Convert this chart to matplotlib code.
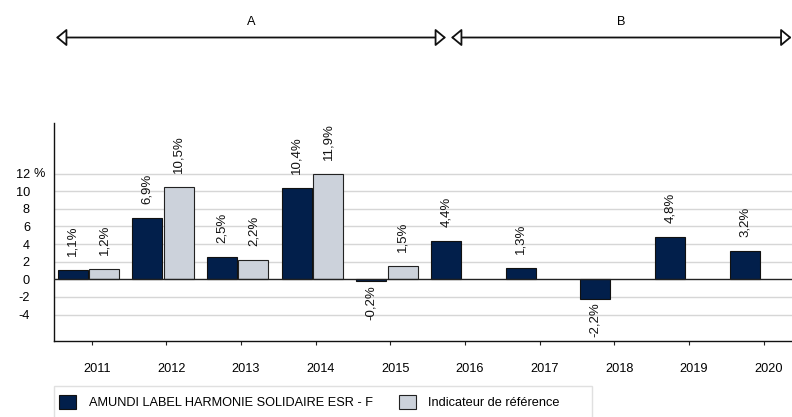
import matplotlib
matplotlib.use("Agg")
import matplotlib.pyplot as plt
from matplotlib.patches import FancyArrowPatch, Rectangle, Patch
from matplotlib.transforms import ScaledTranslation
import numpy as np

plt.rcParams['font.family'] = ['Liberation Sans', 'DejaVu Sans']

years = ['2011', '2012', '2013', '2014', '2015', '2016', '2017', '2018', '2019', '2020']
fund = [1.1, 6.9, 2.5, 10.4, -0.2, 4.4, 1.3, -2.2, 4.8, 3.2]
bench = [1.2, 10.5, 2.2, 11.9, 1.5, None, None, None, None, None]
yticks = [-4, -2, 0, 2, 4, 6, 8, 10, 12]
ytick_labels = ['-4', '-2', '0', '2', '4', '6', '8', '10', '12']
periods = ['A', 'B']
fund_name = 'AMUNDI LABEL HARMONIE SOLIDAIRE ESR - F'
bench_name = 'Indicateur de référence'

NAVY = '#021f4b'
GREY = '#ccd2db'
FS = 9.2

W, H = 792, 417
fig = plt.figure(figsize=(W / 100, H / 100), dpi=100)
ax = fig.add_axes([54 / W, 1 - 341 / H, 1 - 54 / W, (341 - 123.3) / H])

x = np.arange(len(years))
bw = 0.40
off = 0.21

for i, v in enumerate(fund):
    ax.bar(x[i] - off, v, width=bw, color=NAVY, edgecolor='#111111', linewidth=0.8, zorder=3)
for i, v in enumerate(bench):
    if v is not None:
        ax.bar(x[i] + off, v, width=bw, color=GREY, edgecolor='#222222', linewidth=0.8, zorder=3)


def fmt(v):
    return ('%.1f' % v).replace('.', ',') + '%'


def label(xp, v):
    if v >= 0:
        ax.annotate(fmt(v), xy=(xp, v), xytext=(0, 14), textcoords='offset pixels',
                    rotation=90, ha='center', va='bottom', fontsize=FS + 0.3, color='#111111')
    else:
        ax.annotate(fmt(v), xy=(xp, v), xytext=(0, -4), textcoords='offset pixels',
                    rotation=90, ha='center', va='top', fontsize=FS + 0.3, color='#111111')


for i, v in enumerate(fund):
    label(x[i] - off, v)
for i, v in enumerate(bench):
    if v is not None:
        label(x[i] + off, v)

ax.set_ylim(-7.0, 17.7)
ax.set_xlim(-0.46, 9.425)
ax.set_yticks(yticks)
ax.set_yticklabels(ytick_labels, fontsize=FS)
ax.tick_params(axis='y', length=0, pad=17.3)
ax.annotate('%', xy=(0, 12), xycoords=('axes fraction', 'data'), xytext=(-20, 0),
            textcoords='offset pixels', ha='left', va='center', fontsize=FS)

ax.set_xticks(x + 0.045)
ax.set_xticklabels(years, fontsize=FS)
ax.tick_params(axis='x', length=4 * 0.72, width=0.8, pad=13, color='#222222')
shift = ScaledTranslation(5 / 100, 0, fig.dpi_scale_trans)
for lab in ax.get_xticklabels():
    lab.set_transform(lab.get_transform() + shift)

for y in yticks:
    if y != 0:
        ax.axhline(y, color='#d6d6d6', lw=1.0, zorder=1)
ax.axhline(0, color='#222222', lw=1.0, zorder=4)

for s in ['top', 'right']:
    ax.spines[s].set_visible(False)
for s in ['left', 'bottom']:
    ax.spines[s].set_color('#111111')
    ax.spines[s].set_linewidth(1.0)

# period arrows
ya = 1 - 37.5 / H
for (x0, x1), name in zip([(56, 446), (451, 791.5)], periods):
    arr = FancyArrowPatch((x0 / W, ya), (x1 / W, ya), transform=fig.transFigure,
                          arrowstyle='<|-|>,head_length=0.65,head_width=0.54',
                          mutation_scale=10, shrinkA=0, shrinkB=0,
                          fc='white', ec='#111111', lw=1.3)
    fig.add_artist(arr)
    fig.text((x0 + x1) / 2 / W, 1 - 22 / H, name, ha='center', va='center', fontsize=FS)

# legend
fig.add_artist(Rectangle((54.3 / W, 1 - 430 / H), (592 - 54.3) / W, (430 - 386) / H,
                         transform=fig.transFigure, fc='white', ec='#e0e0e0', lw=1.0))
handles = [Patch(facecolor=NAVY, edgecolor='#111111', linewidth=0.8),
           Patch(facecolor=GREY, edgecolor='#222222', linewidth=0.8)]
fig.legend(handles, [fund_name, bench_name], loc='upper left',
           bbox_to_anchor=(59.3 / W, 1 - 395 / H), bbox_transform=fig.transFigure,
           ncol=2, frameon=False, fontsize=FS, borderpad=0, borderaxespad=0,
           handlelength=1.33, handleheight=1.33, handletextpad=1.0, columnspacing=2.0)

fig.savefig('out.png', dpi=100)
